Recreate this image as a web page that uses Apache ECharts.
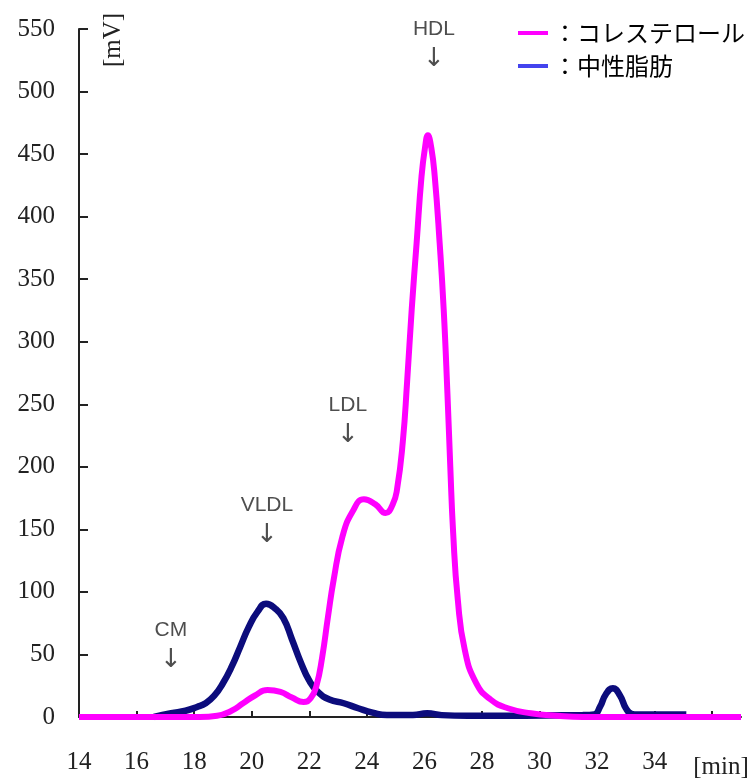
<!DOCTYPE html>
<html>
<head>
<meta charset="utf-8">
<script src="https://cdn.jsdelivr.net/npm/echarts@6/dist/echarts.min.js"></script>
<style>html,body{margin:0;padding:0;background:#fff}#c{width:755px;height:778px}</style>
</head>
<body>
<div id="c"></div>
<script>
// Cholesterol (magenta) trace
var cholT = [14, 18.2, 18.8, 19.3, 19.7, 20.1, 20.55, 21.0, 21.4, 21.8, 22.05, 22.25, 22.45, 22.65, 22.85, 23.15, 23.5, 23.9, 24.3, 24.65, 24.9, 25.05, 25.25, 25.4, 25.56, 25.73, 25.9, 26.02, 26.12, 26.24, 26.36, 26.53, 26.67, 26.8, 26.9, 27.0, 27.16, 27.4, 27.8, 28.3, 28.9, 29.7, 30.6, 31.5, 37];
var cholV = [0, 0, 1, 5, 11, 17, 21.5, 20, 15.5, 12, 15, 25, 48, 80, 110, 144, 164, 174, 170, 163, 170, 182, 220, 268, 326, 379, 432, 455, 465, 455, 432, 379, 326, 259, 200, 147, 94, 54, 27, 14, 7, 3, 1, 0, 0];
// Triglyceride (navy) trace
var tgT = [16.6, 17.2, 17.7, 18.1, 18.4, 18.7, 19.0, 19.3, 19.6, 19.9, 20.2, 20.5, 20.8, 21.1, 21.4, 21.7, 22.0, 22.3, 22.7, 23.2, 23.7, 24.2, 24.7, 25.6, 26.1, 26.6, 27.5, 31.5, 31.9, 32.1, 32.3, 32.55, 32.8, 33.0, 33.2, 33.4, 35.1];
var tgV = [0, 3, 5, 8, 11, 17, 27, 40, 56, 72, 84, 90.5, 87, 79, 62, 44, 29, 20, 14, 11, 7, 3.5, 1.5, 1.5, 3, 1.5, 1, 1.5, 2, 8, 18, 23, 17, 7, 2.5, 2, 2];
// Peak annotations
var annoLabel = ['CM', 'VLDL', 'LDL', 'HDL'];
var annoT = [17.19, 20.53, 23.34, 26.33];
var annoV = [57, 157, 237, 538];
// Axis ticks
var xTicks = [14, 16, 18, 20, 22, 24, 26, 28, 30, 32, 34, 36];
var xLabels = [14, 16, 18, 20, 22, 24, 26, 28, 30, 32, 34];
var seriesNames = ['コレステロール', '中性脂肪'];

var chart = echarts.init(document.getElementById('c'));
var serif = 'Liberation Serif';
chart.setOption({
  animation: false,
  backgroundColor: '#fff',
  grid: {left: 79, right: 14, top: 29, bottom: 61},
  legend: {
    orient: 'vertical', left: 518, top: 18, itemGap: 3, padding: 0,
    icon: 'rect', itemWidth: 30, itemHeight: 4, selectedMode: false,
    data: [
      {name: seriesNames[0], itemStyle: {color: '#ff00ff'}},
      {name: seriesNames[1], itemStyle: {color: '#4444ee'}}
    ],
    formatter: function (n) { return '：' + n; },
    textStyle: {fontSize: 24, color: '#000', fontFamily: 'Noto Sans CJK JP', lineHeight: 30}
  },
  xAxis: {
    type: 'value', min: 14, max: 37, interval: 2,
    splitLine: {show: false},
    axisLine: {lineStyle: {color: '#222', width: 2}},
    axisTick: {inside: true, length: 6, lineStyle: {color: '#222', width: 2}, customValues: xTicks},
    axisLabel: {customValues: xLabels, margin: 33, fontSize: 25, fontFamily: serif, color: '#222'}
  },
  yAxis: {
    type: 'value', min: 0, max: 550, interval: 50,
    splitLine: {show: false},
    axisLine: {show: true, lineStyle: {color: '#222', width: 2}},
    axisTick: {show: true, inside: true, length: 9, lineStyle: {color: '#222', width: 2}},
    axisLabel: {margin: 24, fontSize: 25, fontFamily: serif, color: '#222'}
  },
  graphic: [
    {type: 'text', x: 113, y: 40, rotation: Math.PI / 2,
     style: {text: '[mV]', fontSize: 25, fontFamily: serif, fill: '#222', textAlign: 'center', textVerticalAlign: 'middle'}},
    {type: 'text', x: 721, y: 767,
     style: {text: '[min]', fontSize: 25, fontFamily: serif, fill: '#222', textAlign: 'center', textVerticalAlign: 'middle'}}
  ],
  series: [
    {
      name: seriesNames[1], type: 'line', showSymbol: false, smooth: 0.5,
      data: tgT.map(function (t, i) { return [t, tgV[i]]; }),
      lineStyle: {color: '#0c0c7c', width: 6.5}, itemStyle: {color: '#0c0c7c'}, z: 2
    },
    {
      name: seriesNames[0], type: 'line', showSymbol: false, smooth: 0.5,
      data: cholT.map(function (t, i) { return [t, cholV[i]]; }),
      lineStyle: {color: '#ff00ff', width: 6}, itemStyle: {color: '#ff00ff'}, z: 3
    },
    {
      name: 'annotations', type: 'scatter', symbolSize: 0, silent: true, z: 5,
      itemStyle: {color: 'transparent'},
      data: annoT.map(function (t, i) { return {value: [t, annoV[i]], name: annoLabel[i]}; }),
      label: {
        show: true, position: 'inside',
        formatter: function (p) { return '{n|' + p.name + '}\n{a|↓}'; },
        rich: {
          n: {fontSize: 21, fontFamily: 'Liberation Sans', color: '#222', lineHeight: 30, align: 'center'},
          a: {fontSize: 26, fontFamily: 'DejaVu Sans', color: '#222', lineHeight: 30, align: 'center'}
        }
      }
    }
  ]
});
</script>
</body>
</html>
